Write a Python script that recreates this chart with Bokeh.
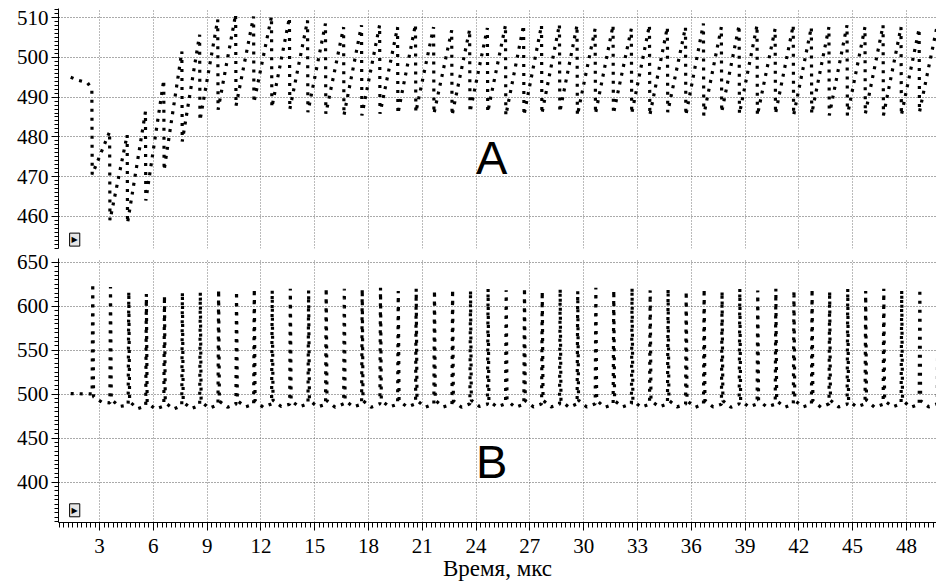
from bokeh.plotting import figure
from bokeh.layouts import column
from bokeh.models import Range1d, SingleIntervalTicker, Label
from bokeh.embed import file_html
from bokeh.resources import INLINE

# ---------------- data ----------------
X_START, X_END = 0.71, 49.68
A_Y_RANGE = (451.9, 512.3)
B_Y_RANGE = (354.0, 654.3)
x_axis_label = "Время, мкс"
panel_labels = ["A", "B"]

# Signal A: short initial slope, then sawtooth (sharp drop at each drop time)
a_lead_t = [1.39, 1.83, 2.33]
a_lead_v = [495.0, 494.2, 493.6]
a_drop_t = [2.57, 3.56, 4.54, 5.56, 6.58, 7.59, 8.58, 9.59, 10.59, 11.59, 12.59, 13.59,
            14.60, 15.60, 16.61, 17.61, 18.62, 19.62, 20.62, 21.63, 22.64, 23.64, 24.63, 25.64,
            26.65, 27.65, 28.65, 29.63, 30.64, 31.64, 32.66, 33.67, 34.67, 35.68, 36.68, 37.68,
            38.67, 39.67, 40.68, 41.69, 42.70, 43.68, 44.69, 45.69, 46.70, 47.70, 48.71, 49.72]
a_top = [492.0, 481.3, 480.5, 486.3, 494.3, 501.5, 505.7, 509.5, 510.8, 510.3, 510.3, 510.0,
         509.3, 508.5, 507.6, 508.1, 508.1, 507.6, 508.3, 507.6, 506.8, 507.0, 507.4, 508.1,
         508.1, 508.1, 508.3, 508.1, 507.2, 508.1, 507.2, 508.1, 507.6, 507.6, 508.5, 507.6,
         508.1, 508.1, 507.2, 508.1, 507.6, 507.6, 508.1, 507.6, 508.1, 507.6, 507.2, 508.0]
a_bottom = [470.5, 459.0, 458.3, 464.0, 471.6, 478.8, 484.1, 486.8, 487.8, 488.6, 487.4, 486.9,
            486.2, 485.8, 485.4, 485.4, 485.8, 485.8, 486.2, 485.8, 485.4, 486.2, 486.2, 485.4,
            485.4, 485.8, 486.2, 485.4, 485.8, 485.8, 485.8, 485.4, 486.2, 485.4, 485.4, 486.2,
            485.8, 485.4, 485.8, 485.4, 485.8, 485.4, 485.4, 485.8, 485.4, 485.4, 486.2]

# Signal B: flat start, then a narrow spike every cycle
b_lead_t = [1.39, 2.55]
b_lead_v = [500.6, 500.2]
b_spike_t = [2.62, 3.61, 4.63, 5.61, 6.62, 7.62, 8.62, 9.64, 10.64, 11.63, 12.63, 13.64,
             14.66, 15.64, 16.65, 17.65, 18.67, 19.66, 20.66, 21.68, 22.69, 23.69, 24.67, 25.68,
             26.70, 27.69, 28.69, 29.67, 30.68, 31.68, 32.70, 33.71, 34.71, 35.72, 36.72, 37.72,
             38.71, 39.71, 40.72, 41.73, 42.74, 43.72, 44.73, 45.73, 46.74, 47.74, 48.75, 49.76]
b_peak = [626.0, 622.0, 617.0, 614.0, 612.0, 616.0, 616.0, 619.0, 617.0, 620.0, 618.0, 620.0,
          618.0, 621.0, 619.9, 619.9, 621.0, 617.2, 619.9, 618.3, 619.1, 618.0, 619.9, 618.3,
          621.0, 617.2, 619.9, 617.2, 621.0, 618.3, 621.0, 618.3, 619.9, 617.2, 619.9, 617.2,
          619.9, 618.0, 619.9, 618.0, 619.9, 617.2, 619.9, 617.2, 619.9, 618.0, 619.9, 618.0]
b_pre = [500.2, 490.0, 487.5, 486.5, 486.5, 487.0, 487.5, 488.0, 488.5, 488.5, 489.0, 488.5,
         489.0, 488.5, 489.0, 488.5, 489.0, 488.5, 489.0, 489.0, 488.5, 489.0, 488.5, 489.0,
         488.5, 489.0, 488.5, 489.0, 489.0, 488.5, 489.0, 488.5, 489.0, 488.5, 489.0, 488.5,
         489.0, 489.0, 488.5, 489.0, 488.5, 489.0, 488.5, 489.0, 488.5, 489.0, 488.5, 489.0]
b_post = [497.0, 494.0, 491.5, 490.5, 490.5, 491.0, 491.5, 492.0, 492.5, 492.5, 493.0, 492.5,
          493.0, 492.5, 493.0, 492.5, 493.0, 492.5, 493.0, 493.0, 492.5, 493.0, 492.5, 493.0,
          492.5, 493.0, 492.5, 493.0, 493.0, 492.5, 493.0, 492.5, 493.0, 492.5, 493.0, 492.5,
          493.0, 493.0, 492.5, 493.0, 492.5, 493.0, 492.5, 493.0, 492.5, 493.0, 492.5, 493.0]
b_trough = [491.0, 486.0, 483.5, 483.0, 483.0, 483.5, 484.0, 485.0, 485.5, 485.0, 486.0, 485.5,
            485.5, 485.0, 485.5, 485.0, 485.5, 485.5, 485.0, 485.5, 485.0, 486.0, 485.5, 485.0,
            485.5, 485.5, 485.0, 485.5, 485.0, 485.5, 485.0, 485.5, 485.5, 485.0, 485.5, 485.0,
            485.5, 485.5, 485.0, 485.5, 485.0, 485.5, 485.5, 485.0, 485.5, 485.0, 485.5, 485.0]

# ---------------- build polylines ----------------
ax, ay = list(a_lead_t), list(a_lead_v)
for k in range(len(a_bottom)):
    ax += [a_drop_t[k], a_drop_t[k] + 0.02]
    ay += [a_top[k], a_bottom[k]]
ax.append(a_drop_t[-1])
ay.append(a_top[-1])

bx, by = list(b_lead_t), list(b_lead_v)
for k in range(len(b_spike_t)):
    bx += [b_spike_t[k] - 0.035, b_spike_t[k], b_spike_t[k] + 0.045, b_spike_t[k] + 0.5]
    by += [b_pre[k], b_peak[k], b_post[k], b_trough[k]]

# ---------------- styling ----------------
SERIF = "Liberation Serif"
x_range = Range1d(X_START, X_END)


def style(p, y_ticker):
    p.outline_line_color = None
    p.background_fill_color = "white"
    p.border_fill_color = "white"
    for g in (p.xgrid, p.ygrid):
        g.grid_line_color = "#555555"
        g.grid_line_dash = "1 2"
        g.grid_line_width = 1
    p.xgrid.grid_line_color = "#777777"
    p.xgrid.ticker = SingleIntervalTicker(interval=3, num_minor_ticks=12)
    p.yaxis.ticker = y_ticker
    p.ygrid.ticker = y_ticker
    ya = p.yaxis[0]
    ya.axis_line_color = "black"
    ya.axis_line_width = 1
    ya.major_tick_out = 7
    ya.major_tick_in = 1
    ya.minor_tick_out = 4
    ya.minor_tick_in = 0
    ya.major_tick_line_color = "black"
    ya.minor_tick_line_color = "black"
    ya.major_label_text_font = SERIF
    ya.major_label_text_font_size = "21px"
    ya.major_label_text_color = "black"
    ya.major_label_standoff = 3


p1 = figure(width=936, height=249, x_range=x_range, y_range=Range1d(*A_Y_RANGE),
            output_backend="svg", toolbar_location=None, x_axis_location=None,
            min_border_left=58, min_border_right=0, min_border_top=8, min_border_bottom=1)
style(p1, SingleIntervalTicker(interval=10, num_minor_ticks=10))
p1.line(ax, ay, line_color="black", line_width=3.2, line_dash="3 6")
p1.add_layout(Label(x=24.0, y=474.8, text=panel_labels[0], text_font="Liberation Sans",
                    text_font_size="47px", text_color="black", text_baseline="alphabetic"))
p1.add_layout(Label(x=X_START + 0.62, y=A_Y_RANGE[0] + 0.6, text="▶", text_font="DejaVu Sans",
                    text_font_size="8px", text_color="black", background_fill_color="#e6e6e6",
                    border_line_color="black", border_line_width=1, padding=2,
                    text_baseline="bottom"))

p2 = figure(width=936, height=334, x_range=x_range, y_range=Range1d(*B_Y_RANGE),
            output_backend="svg", toolbar_location=None,
            min_border_left=58, min_border_right=0, min_border_top=9, min_border_bottom=0)
style(p2, SingleIntervalTicker(interval=50, num_minor_ticks=10))
p2.line(bx, by, line_color="black", line_width=3.2, line_dash="3 6")
p2.add_layout(Label(x=24.0, y=423.5, text=panel_labels[1], text_font="Liberation Sans",
                    text_font_size="47px", text_color="black", text_baseline="alphabetic"))
p2.add_layout(Label(x=X_START + 0.62, y=B_Y_RANGE[0] + 6.5, text="▶", text_font="DejaVu Sans",
                    text_font_size="8px", text_color="black", background_fill_color="#e6e6e6",
                    border_line_color="black", border_line_width=1, padding=2,
                    text_baseline="bottom"))

xa = p2.xaxis[0]
xa.ticker = SingleIntervalTicker(interval=3, num_minor_ticks=12)
xa.axis_line_color = "black"
xa.major_tick_out = 8
xa.major_tick_in = 0
xa.minor_tick_out = 5
xa.minor_tick_in = 0
xa.major_tick_line_color = "black"
xa.minor_tick_line_color = "black"
xa.major_label_text_font = SERIF
xa.major_label_text_font_size = "21px"
xa.major_label_text_color = "black"
xa.major_label_standoff = 8
xa.axis_label = x_axis_label
xa.axis_label_text_font = SERIF
xa.axis_label_text_font_size = "23px"
xa.axis_label_text_font_style = "normal"
xa.axis_label_text_color = "black"
xa.axis_label_standoff = 0

layout = column(p1, p2)
open("out.html", "w").write(file_html(layout, INLINE))
